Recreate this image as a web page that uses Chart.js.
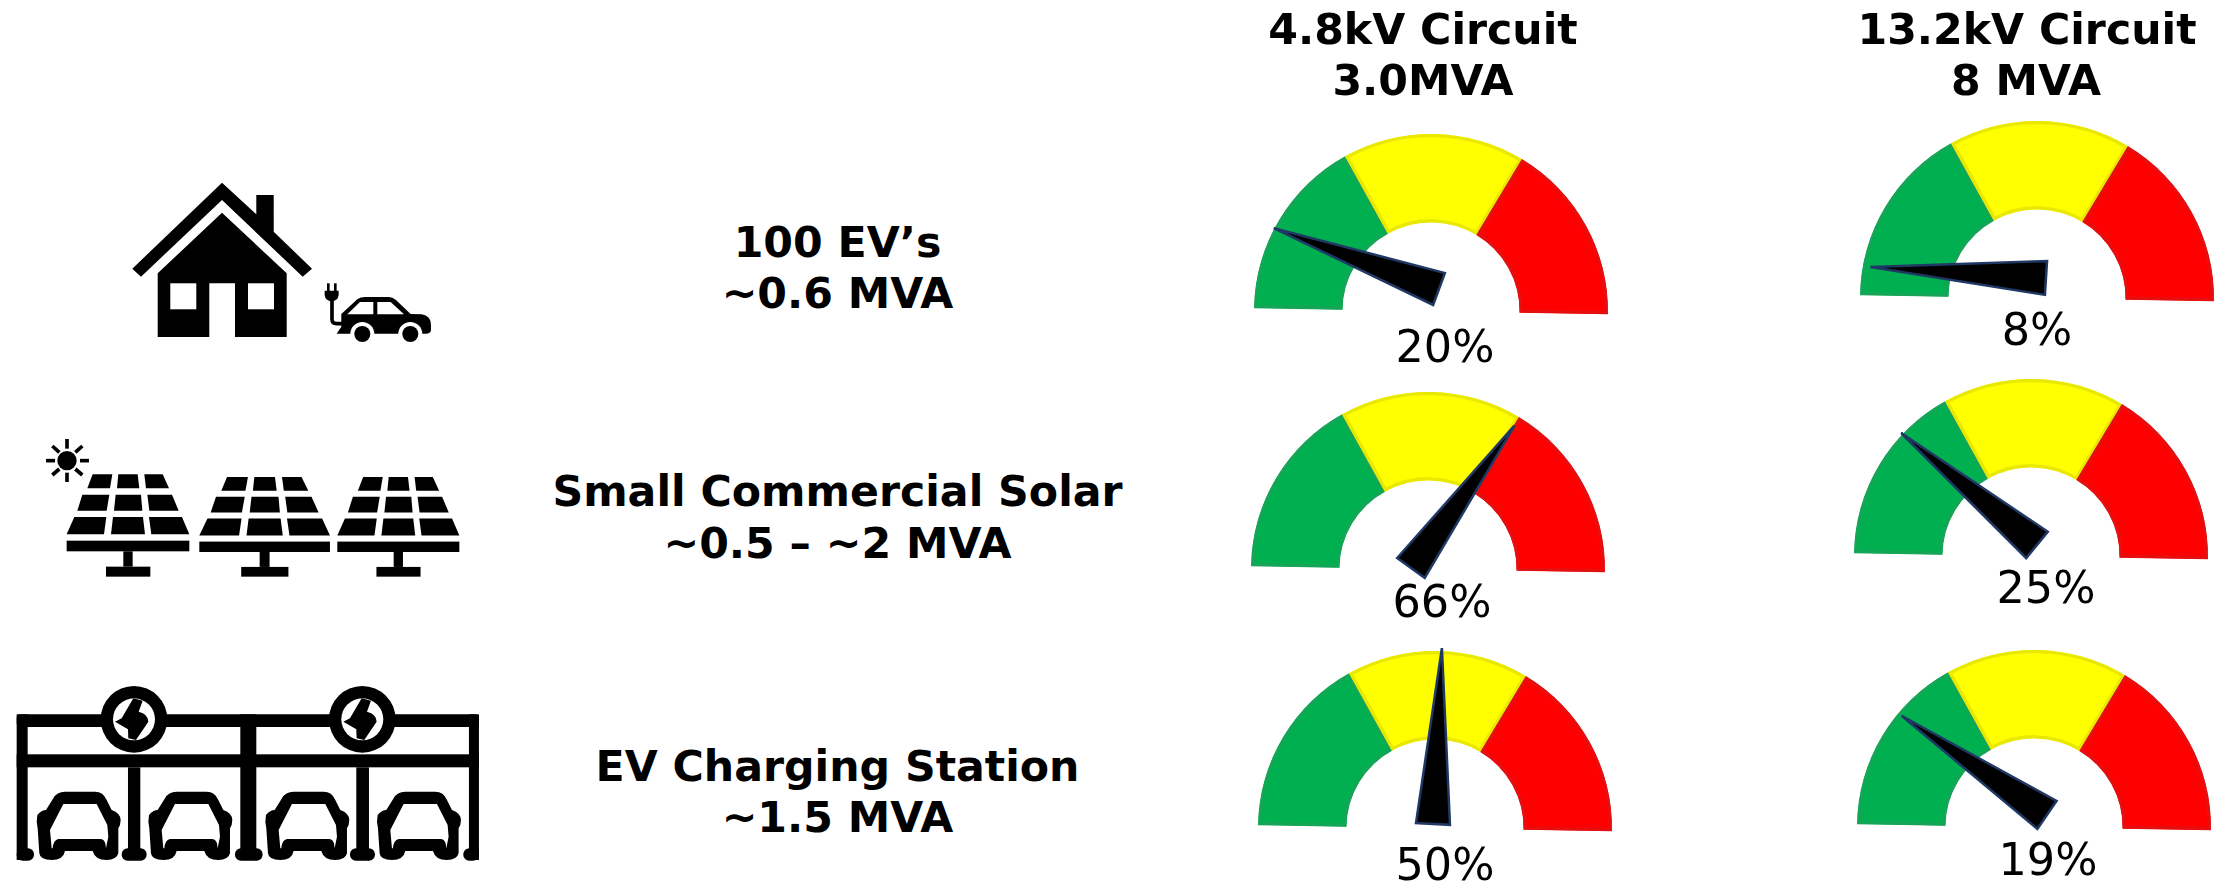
<!DOCTYPE html>
<html>
<head>
<meta charset="utf-8">
<title>Circuit hosting capacity gauges</title>
<script src="https://cdn.jsdelivr.net/npm/chart.js@4"></script>
<style>
    html, body { margin: 0; padding: 0; background: #fff; }
    body { position: relative; width: 2219px; height: 883px; overflow: hidden; font-family: "DejaVu Sans", sans-serif; color: #000; }
    canvas { position: absolute; }
    svg { position: absolute; left: 0; top: 0; }
    .txt { position: absolute; height: 0; line-height: 0; white-space: nowrap; transform: translateX(-50%); }
    .bold { font-weight: bold; }
</style>
</head>
<body>

<svg width="2219" height="883" viewBox="0 0 2219 883">
    <defs>
        <g id="panel">
            <polygon points="218,163 277,163 270,205 202,205"/>
            <polygon points="295,163 353,163 358,205 291,205"/>
            <polygon points="373,163 428,163 447,205 378,205"/>
            <polygon points="187,224 268,224 260,272 172,272"/>
            <polygon points="287,224 363,224 367,272 282,272"/>
            <polygon points="382,224 456,224 476,272 388,272"/>
            <polygon points="163,291 259,291 252,343 140,343"/>
            <polygon points="279,291 369,291 375,343 273,343"/>
            <polygon points="387,291 486,291 508,343 394,343"/>
            <rect x="140" y="362" width="368" height="32"/>
            <rect x="310" y="394" width="28" height="46"/>
            <rect x="258" y="440" width="133" height="30"/>
        </g>
        <g id="evcar">
            <path d="M160,475 Q170,455 195,455 L285,455 Q310,455 320,480 L335,510 Q362,520 362,540 Q362,555 355,565 L355,640 Q350,660 320,660 Q285,660 278,633 L195,633 Q190,660 155,660 Q120,660 118,640 L113,565 Q108,545 112,525 Q125,510 138,510 Z"/>
            <path fill="#fff" d="M190,492 L290,492 L322,555 L325,590 L318,625 L316,610 Q312,597 300,597 L175,597 Q160,600 158,625 L155,625 L150,570 Z"/>
        </g>
        <g id="bolt">
            <circle cx="402" cy="238" r="100"/>
            <circle cx="402" cy="238" r="63" fill="#fff"/>
            <path d="M400,175 L428,182 L416,215 Q445,222 445,245 L408,300 L385,295 L384,268 L345,245 L365,235 Z"/>
        </g>
    </defs>

    <!-- casa y coche -->
    <path d="M222,182.7 L256.3,214.3 L256.3,195 L273.7,195 L273.7,231.7 L312,268.7 L302.7,276.7 L222,200 L141,276.7 L132.3,268.7 Z"/>
    <path d="M222,212.7 L286.7,273.3 L286.7,337 L235,337 L235,283.3 L209.3,283.3 L209.3,337 L157.7,337 L157.7,273.3 Z"/>
    <rect x="170.3" y="283.3" width="26" height="26" fill="#fff"/>
    <rect x="248" y="283.3" width="26" height="26" fill="#fff"/>
    <g transform="translate(120,170) scale(0.3333)">
        <path d="M664,432 L712,388 Q722,381 735,381 L805,381 Q818,381 828,390 L872,432 L905,433 Q933,438 933,465 L933,482 Q930,491 918,491 L650,491 L664,470 Z"/>
        <circle cx="727" cy="492" r="36" fill="#fff"/>
        <circle cx="871" cy="492" r="36" fill="#fff"/>
        <circle cx="727" cy="492" r="24"/>
        <circle cx="871" cy="492" r="24"/>
        <polygon fill="#fff" points="682,433 720,396 760,396 760,433"/>
        <polygon fill="#fff" points="772,396 812,396 852,433 772,433"/>
        <path d="M636,385 L636,448 Q636,461 650,461 L668,461" fill="none" stroke="#000" stroke-width="11"/>
        <path d="M614,362 L656,362 L656,375 Q654,393 635,393 Q616,393 614,375 Z"/>
        <rect x="621" y="340" width="8" height="24"/>
        <rect x="642" y="340" width="8" height="24"/>
    </g>

    <!-- paneles solares -->
    <g transform="translate(20,420) scale(0.3333)">
        <circle cx="141" cy="122" r="29"/>
        <g stroke="#000" stroke-width="11">
            <line x1="141" y1="57" x2="141" y2="86"/>
            <line x1="141" y1="158" x2="141" y2="186"/>
            <line x1="78" y1="122" x2="105" y2="122"/>
            <line x1="180" y1="122" x2="207" y2="122"/>
            <line x1="97" y1="78" x2="118" y2="97"/>
            <line x1="187" y1="78" x2="166" y2="97"/>
            <line x1="97" y1="165" x2="118" y2="147"/>
            <line x1="187" y1="165" x2="166" y2="147"/>
        </g>
        <use href="#panel"/>
        <use href="#panel" transform="translate(538,171) scale(1.065,0.974) translate(-140,-163)"/>
        <use href="#panel" transform="translate(952,171) scale(0.995,0.974) translate(-140,-163)"/>
    </g>

    <!-- estacion de carga -->
    <g transform="translate(0,640) scale(0.3333)">
        <rect x="50" y="223" width="1387" height="38" rx="12"/>
        <rect x="50" y="343" width="1387" height="39"/>
        <rect x="50" y="223" width="33" height="437"/>
        <rect x="1407" y="223" width="30" height="437"/>
        <rect x="721" y="223" width="48" height="437"/>
        <rect x="384" y="382" width="37" height="278"/>
        <rect x="1069" y="382" width="38" height="278"/>
        <rect x="50" y="625" width="52" height="37" rx="18"/>
        <rect x="365" y="625" width="75" height="37" rx="18"/>
        <rect x="705" y="625" width="83" height="37" rx="18"/>
        <rect x="1050" y="625" width="75" height="37" rx="18"/>
        <rect x="1390" y="625" width="47" height="37" rx="18"/>
        <use href="#bolt"/>
        <use href="#bolt" transform="translate(685,0)"/>
        <use href="#evcar"/>
        <use href="#evcar" transform="translate(335,0)"/>
        <use href="#evcar" transform="translate(686,0)"/>
        <use href="#evcar" transform="translate(1021,0)"/>
    </g>
</svg>

<script>
// datos
const circuitTitles = ['4.8kV Circuit', '3.0MVA', '13.2kV Circuit', '8 MVA'];
const rowLabels = ['100 EV’s', '~0.6 MVA', 'Small Commercial Solar', '~0.5 – ~2 MVA', 'EV Charging Station', '~1.5 MVA'];
const zoneNames = ['Low', 'Medium', 'High'];
const zoneValues = [60, 60, 60];
const pctLabels = [20, 66, 50, 8, 25, 19];
// hacia donde apunta la aguja, en grados sobre la escala de 180 del dial
const needleReadings = [20.2, 126, 92.9, 3.6, 39.5, 34.3];

const zoneColors = ['#00B050', '#FFFF00', '#FF0000'];
const zoneBorders = ['#14A556', '#E8E800', '#E60F0F'];

// posicion de cada gauge en la pagina
const gaugeCenters = [[1431, 311], [1428, 569], [1435, 828], [2037, 298], [2031, 556], [2034, 827]];
const pivotOffsets = [[8, -22], [-17, -1], [-2, -4], [9, -20], [6, -11], [13, -12]];
const pctPos = [[1445, 362], [1442, 617], [1445, 880], [2037, 345], [2046, 603], [2048, 875]];

const titlePos = [[1423, 44], [1423, 95], [2027, 44], [2026, 95]];
const rowPos = [[837.5, 257], [837.5, 308], [837.5, 506], [837.5, 558], [837.5, 781], [837.5, 832]];

const addText = (texto, x, baseline, size, bold) => {
    const el = document.createElement('div');
    el.className = bold ? 'txt bold' : 'txt';
    el.textContent = texto;
    el.style.left = x + 'px';
    el.style.top = (baseline - size * 0.346) + 'px';
    el.style.fontSize = size + 'px';
    document.body.appendChild(el);
};

const needlePlugin = {
    id: 'needle',
    afterDatasetsDraw(chart, args, opts) {
        const arc = chart.getDatasetMeta(0).data[0];
        const ctx = chart.ctx;
        const rad = opts.reading * Math.PI / 180;
        const px = arc.x + opts.offset[0];
        const py = arc.y + opts.offset[1];
        const ux = -Math.cos(rad), uy = -Math.sin(rad);
        const halfBase = 17, largo = 176;
        ctx.save();
        ctx.beginPath();
        ctx.moveTo(px + ux * largo, py + uy * largo);
        ctx.lineTo(px - uy * halfBase, py + ux * halfBase);
        ctx.lineTo(px + uy * halfBase, py - ux * halfBase);
        ctx.closePath();
        ctx.fillStyle = '#000';
        ctx.fill();
        ctx.lineWidth = 2.5;
        ctx.strokeStyle = '#1F3864';
        ctx.stroke();
        ctx.restore();
    }
};

const crearGauge = (i) => {
    const canvas = document.createElement('canvas');
    canvas.width = 460;
    canvas.height = 460;
    document.body.appendChild(canvas);

    const chart = new Chart(canvas.getContext('2d'), {
        type: 'doughnut',
        data: {
            labels: zoneNames,
            datasets: [{
                data: zoneValues,
                backgroundColor: zoneColors,
                borderColor: zoneBorders,
                borderWidth: 3,
                borderAlign: 'inner'
            }]
        },
        options: {
            responsive: false,
            animation: false,
            rotation: -89,
            circumference: 180,
            radius: 177,
            cutout: '50%',
            plugins: {
                legend: { display: false },
                tooltip: { enabled: false },
                needle: { reading: needleReadings[i], offset: pivotOffsets[i] }
            }
        },
        plugins: [needlePlugin]
    });

    const arc = chart.getDatasetMeta(0).data[0];
    canvas.style.left = (gaugeCenters[i][0] - arc.x) + 'px';
    canvas.style.top = (gaugeCenters[i][1] - arc.y) + 'px';
};

pctLabels.forEach((v, i) => crearGauge(i));

circuitTitles.forEach((t, i) => addText(t, titlePos[i][0], titlePos[i][1], 42.67, true));
rowLabels.forEach((t, i) => addText(t, rowPos[i][0], rowPos[i][1], 42.67, true));
pctLabels.forEach((v, i) => addText(v + '%', pctPos[i][0], pctPos[i][1], 44.5, false));
</script>
</body>
</html>
